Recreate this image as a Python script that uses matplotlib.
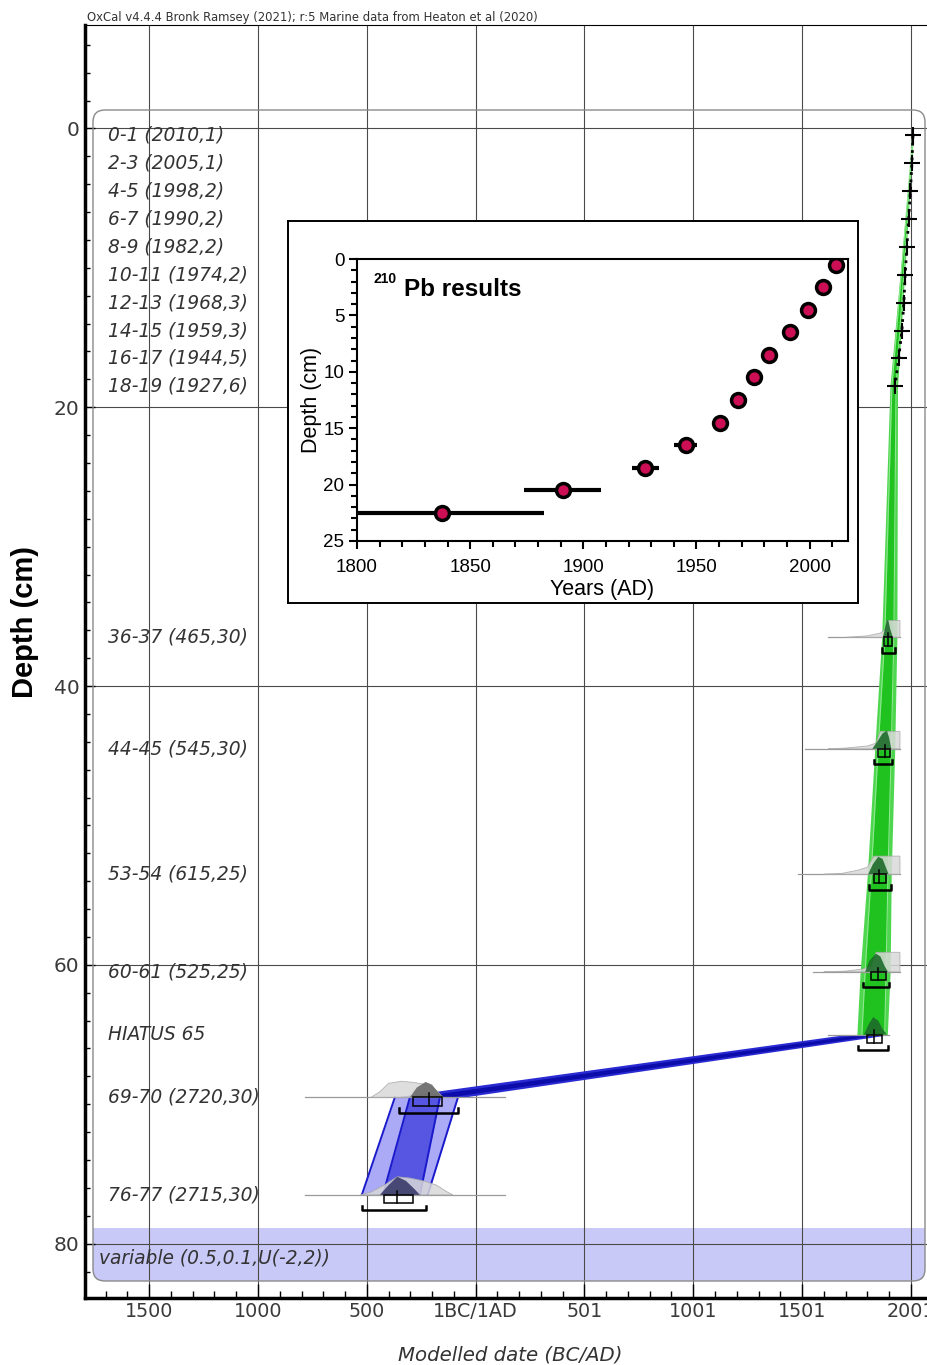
import matplotlib
matplotlib.use('Agg')
import matplotlib.pyplot as plt
import numpy as np
from matplotlib.patches import FancyBboxPatch, Rectangle
from matplotlib import transforms
from matplotlib.ticker import MultipleLocator

# ---------------- data ----------------
# sample labels (left column) and their depths (cm)
sample_labels = ['0-1 (2010,1)', '2-3 (2005,1)', '4-5 (1998,2)', '6-7 (1990,2)', '8-9 (1982,2)',
                 '10-11 (1974,2)', '12-13 (1968,3)', '14-15 (1959,3)', '16-17 (1944,5)', '18-19 (1927,6)',
                 '36-37 (465,30)', '44-45 (545,30)', '53-54 (615,25)', '60-61 (525,25)',
                 'HIATUS 65', '69-70 (2720,30)', '76-77 (2715,30)']
sample_depths = [0.5, 2.5, 4.5, 6.5, 8.5, 10.5, 12.5, 14.5, 16.5, 18.5,
                 36.5, 44.5, 53.5, 60.5, 65, 69.5, 76.5]
variable_label = 'variable (0.5,0.1,U(-2,2))'
variable_depth = 81.0

# 210Pb dates in the OxCal model (year AD, depth)
pb_years = [2010, 2005, 1998, 1990, 1982, 1974, 1968, 1959, 1944, 1927]
pb_depths = [0.5, 2.5, 4.5, 6.5, 8.5, 10.5, 12.5, 14.5, 16.5, 18.5]

# green model envelope (upper section)
green_depth = [0, 0.5, 18.5, 36.5, 44.5, 53.5, 60.5, 65]
green95_lo = [2008.5, 2008, 1904, 1866, 1834, 1800, 1767, 1752]
green95_hi = [2012, 2011.5, 1939, 1936, 1926, 1910, 1905, 1892]
green68_lo = [2009.5, 2009, 1913, 1880, 1850, 1818, 1790, 1775]
green68_hi = [2011, 2010.5, 1932, 1922, 1910, 1895, 1886, 1880]

# blue model envelope (below hiatus)
hiatus_depth = [65, 69.5]
hiatus95_lo = [1700, -380]
hiatus95_hi = [1905, -60]
hiatus68_lo = [1760, -290]
hiatus68_hi = [1860, -130]
lower_depth = [69.5, 76.5]
lower95_lo = [-371, -523]
lower95_hi = [-81, -220]
lower68_lo = [-302, -426]
lower68_hi = [-164, -256]

# radiocarbon / boundary distributions: depth, baseline, likelihood, posterior, ranges
dates = [
    dict(d=36.5, base=[1619, 1950], lik_x=[1700, 1800, 1860, 1885, 1890, 1950, 1950], lik_h=[0, 0.1, 0.3, 0.6, 1.2, 1.2, 0],
         post_x=[1872, 1882, 1890, 1897, 1905, 1917], post_h=[0, 0.7, 1.25, 1.2, 0.6, 0],
         r68=[1877, 1914], med=1895, r95=[1866, 1926], col='#1d6b2a'),
    dict(d=44.5, base=[1513, 1950], lik_x=[1620, 1700, 1800, 1840, 1860, 1950, 1950], lik_h=[0, 0.05, 0.2, 0.4, 1.25, 1.25, 0],
         post_x=[1823, 1845, 1870, 1890, 1900, 1910], post_h=[0, 0.5, 1.1, 1.3, 0.8, 0],
         r68=[1849, 1904], med=1880, r95=[1830, 1913], col='#1d6b2a'),
    dict(d=53.5, base=[1482, 1950], lik_x=[1600, 1680, 1760, 1800, 1830, 1950, 1950], lik_h=[0, 0.05, 0.3, 0.5, 1.3, 1.3, 0],
         post_x=[1804, 1825, 1850, 1870, 1885, 1898], post_h=[0, 0.7, 1.25, 1.1, 0.5, 0],
         r68=[1830, 1886], med=1855, r95=[1808, 1908], col='#1d6b2a'),
    dict(d=60.5, base=[1550, 1950], lik_x=[1600, 1700, 1780, 1820, 1840, 1950, 1950], lik_h=[0, 0.05, 0.2, 0.4, 1.4, 1.4, 0],
         post_x=[1790, 1810, 1840, 1860, 1880, 1895], post_h=[0, 0.8, 1.3, 1.1, 0.4, 0],
         r68=[1816, 1886], med=1850, r95=[1781, 1900], col='#1d6b2a'),
    dict(d=65, base=[1619, 1900], lik_x=[], lik_h=[],
         post_x=[1785, 1805, 1827, 1850, 1870, 1890], post_h=[0, 0.7, 1.25, 1.0, 0.4, 0],
         r68=[1798, 1868], med=1830, r95=[1758, 1895], col='#1d6b2a'),
    dict(d=69.5, base=[-785, 134], lik_x=[-480, -440, -400, -340, -280, -220, -180, -150], lik_h=[0, 0.4, 1.0, 1.15, 1.05, 0.9, 0.5, 0],
         post_x=[-302, -270, -230, -200, -175, -150], post_h=[0, 0.7, 1.1, 0.9, 0.4, 0],
         r68=[-288, -155], med=-214, r95=[-352, -81], col='#6a6a6a'),
    dict(d=76.5, base=[-785, 134], lik_x=[-530, -480, -420, -360, -300, -240, -180, -130, -104], lik_h=[0, 0.2, 0.7, 1.3, 1.2, 1.0, 0.7, 0.2, 0],
         post_x=[-440, -400, -360, -320, -280, -256], post_h=[0, 0.7, 1.3, 1.0, 0.4, 0],
         r68=[-421, -288], med=-362, r95=[-523, -229], col='#3a3a6a'),
]

x_tick_pos = [-1500, -1000, -500, 0, 500, 1000, 1500, 2000]
x_tick_labels = ['1500', '1000', '500', '1BC/1AD', '501', '1001', '1501', '2001']
y_tick_pos = [0, 20, 40, 60, 80]

# inset 210Pb data
inset_years = [2011.5, 2005.8, 1999.5, 1991.3, 1982, 1975.3, 1968.5, 1960.3, 1945.3, 1927.5, 1891, 1837.5]
inset_depths = [0.5, 2.5, 4.5, 6.5, 8.5, 10.5, 12.5, 14.5, 16.5, 18.5, 20.5, 22.5]
inset_err = [1, 1, 2, 2, 2, 2, 3, 3, 5, 6, 17, 45]

# ---------------- figure ----------------
W, H = 928, 1365
fig = plt.figure(figsize=(W / 100, H / 100), dpi=100)
fig.patch.set_facecolor('white')


def fx(px):
    return px / W


def fy(py):
    return 1 - py / H


ax = fig.add_axes([fx(85), fy(1298), fx(950) - fx(85), fy(25) - fy(1298)])
ax.set_xlim(-1795, 2180)
ax.set_ylim(83.9, -7.42)
ax.set_axisbelow(True)
ax.grid(True, which='major', color='#4a4a4a', lw=0.8)

ax.set_xticks(x_tick_pos)
ax.set_xticklabels(x_tick_labels)
ax.xaxis.set_minor_locator(MultipleLocator(100))
ax.set_yticks(y_tick_pos)
ax.yaxis.set_minor_locator(MultipleLocator(2))
ax.tick_params(axis='x', which='major', direction='in', length=10, width=1, pad=3,
               labelsize=13.8, labelcolor='#3a3a3a')
ax.tick_params(axis='x', which='minor', direction='in', length=5, width=1)
ax.tick_params(axis='y', which='major', direction='in', length=7, width=1, pad=4,
               labelsize=14.5, labelcolor='#3a3a3a')
ax.tick_params(axis='y', which='minor', direction='in', length=3.5, width=1)
for lab in ax.get_xticklabels() + ax.get_yticklabels():
    lab.set_family('DejaVu Sans')
ax.spines['left'].set_linewidth(2.5)
ax.spines['bottom'].set_linewidth(2.5)
ax.spines['top'].set_linewidth(0.8)
ax.spines['right'].set_visible(False)

# variable band and rounded frame (pixel-positioned decoration)
inch = fig.dpi_scale_trans
band_col = '#c9c9f7'
ax.add_patch(Rectangle((0.93, (H - 1262) / 100), 8.32, (1262 - 1228) / 100, transform=inch,
                       fc=band_col, ec='none', zorder=0.3))
ax.add_patch(FancyBboxPatch((0.93, (H - 1281) / 100), 8.32, (1281 - 1240) / 100,
                            boxstyle='round,pad=0,rounding_size=0.1', transform=inch,
                            fc=band_col, ec='none', zorder=0.3))
ax.add_patch(FancyBboxPatch((0.93, (H - 1281) / 100), 8.32, (1281 - 110) / 100,
                            boxstyle='round,pad=0,rounding_size=0.12', transform=inch,
                            fill=False, ec='#8a8a8a', lw=1.0, zorder=1, clip_on=False))

# sample labels
lab_tr = transforms.blended_transform_factory(fig.transFigure, ax.transData)
for lab, d in zip(sample_labels, sample_depths):
    ax.text(fx(108), d, lab, transform=lab_tr, ha='left', va='center', fontsize=13.4,
            style='oblique', color='#333333', family='DejaVu Sans', zorder=6)
ax.text(fx(99), variable_depth, variable_label, transform=lab_tr, ha='left', va='center',
        fontsize=13.4, style='oblique', color='#333333', family='DejaVu Sans', zorder=6)

# green envelope
ax.fill_betweenx(green_depth, green95_lo, green95_hi, color='#4fd64f', lw=0, zorder=2)
ax.fill_betweenx(green_depth, green68_lo, green68_hi, color='#1fc21f', lw=0, zorder=2.1)
ax.plot(green68_lo, green_depth, color='#8ee88e', lw=0.8, zorder=2.2)
ax.plot(green68_hi, green_depth, color='#8ee88e', lw=0.8, zorder=2.2)

# blue envelopes
ax.fill_betweenx(hiatus_depth, hiatus95_lo, hiatus95_hi, color='#2a2ad2', lw=0, zorder=2)
ax.fill_betweenx(hiatus_depth, hiatus68_lo, hiatus68_hi, color='#0c0caa', lw=0, zorder=2.1)
ax.fill_betweenx(lower_depth, lower95_lo, lower95_hi, color='#aaaaf6', lw=0, zorder=2)
ax.fill_betweenx(lower_depth, lower68_lo, lower68_hi, color='#5656e2', lw=0, zorder=2.1)
for xs in (lower95_lo, lower95_hi, lower68_lo, lower68_hi):
    ax.plot(xs, lower_depth, color='#1a1acc', lw=1.4, zorder=2.2)

# 210Pb crosses with dotted line
ax.plot(pb_years, pb_depths, ':', color='k', lw=2, zorder=4)
ax.plot(pb_years, pb_depths, '+', color='k', ms=11, mew=1.5, zorder=5)

# distributions and ranges
for dd in dates:
    d = dd['d']
    ax.plot(dd['base'], [d, d], color='#9a9a9a', lw=0.9, zorder=3)
    if dd['lik_x']:
        ax.fill(dd['lik_x'], [d - h for h in dd['lik_h']], fc='#d9d9d9', ec='#a8a8a8',
                lw=0.6, alpha=0.85, zorder=3)
    ax.fill(dd['post_x'], [d - h for h in dd['post_h']], fc=dd['col'], ec='none', alpha=0.9, zorder=4)
    r68 = dd['r68']
    ax.add_patch(Rectangle((r68[0], d), r68[1] - r68[0], 0.6, fill=False, ec='k', lw=1.1, zorder=5))
    ax.plot([dd['med'], dd['med']], [d - 0.3, d + 0.6], color='k', lw=1.1, zorder=5)
    r95 = dd['r95']
    ax.plot([r95[0], r95[0], r95[1], r95[1]], [d + 0.8, d + 1.1, d + 1.1, d + 0.8],
            color='k', lw=1.8, zorder=5)

# figure texts
fig.text(fx(87), fy(17), 'OxCal v4.4.4 Bronk Ramsey (2021); r:5 Marine data from Heaton et al (2020)',
         fontsize=8.4, color='#333333', family='DejaVu Sans', ha='left', va='center')
fig.text(fx(25), fy(622), 'Depth (cm)', rotation=90, fontsize=21, fontweight='bold',
         family='Liberation Sans', ha='center', va='center')
fig.text(fx(510), fy(1355), 'Modelled date (BC/AD)', fontsize=14.2, style='oblique',
         color='#333333', family='DejaVu Sans', ha='center', va='center')

# ---------------- inset ----------------
box = fig.add_axes([fx(288), fy(603), fx(858) - fx(288), fy(221) - fy(603)], zorder=10)
box.set_xticks([])
box.set_yticks([])
box.set_facecolor('white')
for s in box.spines.values():
    s.set_linewidth(1.4)

ins = fig.add_axes([fx(357), fy(541), fx(848) - fx(357), fy(259) - fy(541)], zorder=11)
ins.set_xlim(1800, 2017)
ins.set_ylim(25, 0)
ins.errorbar(inset_years, inset_depths, xerr=inset_err, fmt='o', ms=10, mfc='#cc0f55', mec='k',
             mew=2.5, ecolor='k', elinewidth=3, capsize=0, zorder=3)
ins.set_xticks([1800, 1850, 1900, 1950, 2000])
ins.set_yticks([0, 5, 10, 15, 20, 25])
ins.xaxis.set_minor_locator(MultipleLocator(10))
ins.yaxis.set_minor_locator(MultipleLocator(1))
ins.tick_params(axis='x', which='major', direction='out', length=6, width=1.5, labelsize=13.5, pad=7)
ins.tick_params(axis='y', which='major', direction='out', length=6, width=1.5, labelsize=13.5, pad=3)
ins.tick_params(which='minor', direction='out', length=4, width=1.5)
for lab in ins.get_xticklabels() + ins.get_yticklabels():
    lab.set_family('Liberation Sans')
for s in ins.spines.values():
    s.set_linewidth(1.5)
ins.set_xlabel('Years (AD)', fontsize=15.5, family='Liberation Sans', labelpad=2)
ins.set_ylabel('Depth (cm)', fontsize=15.5, family='Liberation Sans', labelpad=1)
ins.text(0.034, 0.928, '210', transform=ins.transAxes, fontsize=10, fontweight='bold',
         family='Liberation Sans', ha='left', va='center')
ins.text(0.095, 0.893, 'Pb results', transform=ins.transAxes, fontsize=17.5, fontweight='bold',
         family='Liberation Sans', ha='left', va='center')

fig.savefig('out.png', dpi=100)
